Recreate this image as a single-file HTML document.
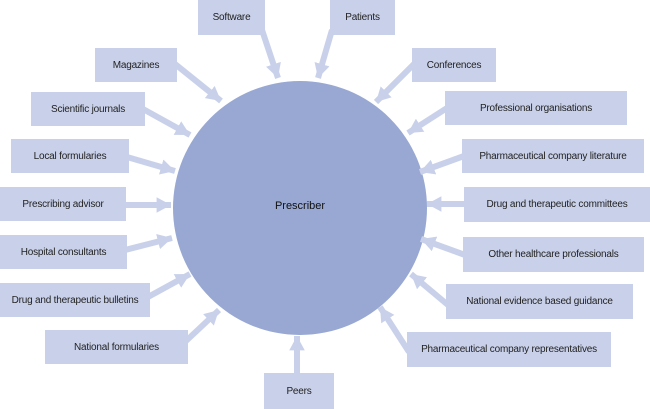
<!DOCTYPE html>
<html><head><meta charset="utf-8"><style>
html,body{margin:0;padding:0;background:#fff;}
body{width:650px;height:409px;position:relative;overflow:hidden;font-family:"Liberation Sans",sans-serif;}
.b{position:absolute;background:#c9d1ea;color:#222;font-size:10px;display:flex;align-items:center;justify-content:center;letter-spacing:-0.2px;}
svg{position:absolute;left:0;top:0;}
</style></head><body>
<svg width="650" height="409">
<defs><marker id="a" markerWidth="2.4" markerHeight="2.6" refX="2.4" refY="1.3" orient="auto" markerUnits="strokeWidth"><path d="M0,0 L2.4,1.3 L0,2.6 z" fill="#c9d1ea"/></marker></defs>
<circle cx="300" cy="208" r="127" fill="#98a8d3"/>
<g stroke="#c9d1ea" stroke-width="6" marker-end="url(#a)">
<line x1="262" y1="30" x2="278" y2="78"/>
<line x1="332" y1="30" x2="318" y2="78"/>
<line x1="175" y1="64" x2="221" y2="101"/>
<line x1="414" y1="64" x2="376" y2="102"/>
<line x1="143" y1="109" x2="190" y2="135"/>
<line x1="447" y1="108" x2="408" y2="133"/>
<line x1="127" y1="157" x2="175" y2="171"/>
<line x1="464" y1="156" x2="420" y2="172"/>
<line x1="124" y1="205" x2="171" y2="205"/>
<line x1="466" y1="204" x2="427" y2="204"/>
<line x1="125" y1="250" x2="172" y2="238"/>
<line x1="465" y1="255" x2="421" y2="239"/>
<line x1="148" y1="297" x2="190" y2="274"/>
<line x1="448" y1="305" x2="411" y2="274"/>
<line x1="186" y1="341" x2="219" y2="310"/>
<line x1="409" y1="352" x2="380" y2="307"/>
<line x1="297" y1="375" x2="297" y2="336"/>
</g>
</svg>
<div class="b" style="left:198px;top:0;width:67px;height:35px">Software</div>
<div class="b" style="left:330px;top:0;width:65px;height:35px">Patients</div>
<div class="b" style="left:95px;top:48px;width:82px;height:34px">Magazines</div>
<div class="b" style="left:412px;top:48px;width:84px;height:34px">Conferences</div>
<div class="b" style="left:31px;top:92px;width:114px;height:34px">Scientific journals</div>
<div class="b" style="left:445px;top:91px;width:182px;height:34px">Professional organisations</div>
<div class="b" style="left:11px;top:139px;width:118px;height:34px">Local formularies</div>
<div class="b" style="left:462px;top:139px;width:182px;height:34px">Pharmaceutical company literature</div>
<div class="b" style="left:0;top:187px;width:126px;height:34px">Prescribing advisor</div>
<div class="b" style="left:464px;top:187px;width:186px;height:35px">Drug and therapeutic committees</div>
<div class="b" style="left:0;top:235px;width:127px;height:34px">Hospital consultants</div>
<div class="b" style="left:463px;top:237px;width:181px;height:35px">Other healthcare professionals</div>
<div class="b" style="left:0;top:283px;width:150px;height:34px">Drug and therapeutic bulletins</div>
<div class="b" style="left:446px;top:284px;width:187px;height:35px">National evidence based guidance</div>
<div class="b" style="left:45px;top:330px;width:143px;height:34px">National formularies</div>
<div class="b" style="left:407px;top:332px;width:204px;height:35px">Pharmaceutical company representatives</div>
<div class="b" style="left:264px;top:373px;width:70px;height:36px">Peers</div>
<div style="position:absolute;left:250px;top:200px;width:100px;text-align:center;font-size:11px;color:#111">Prescriber</div>
</body></html>
